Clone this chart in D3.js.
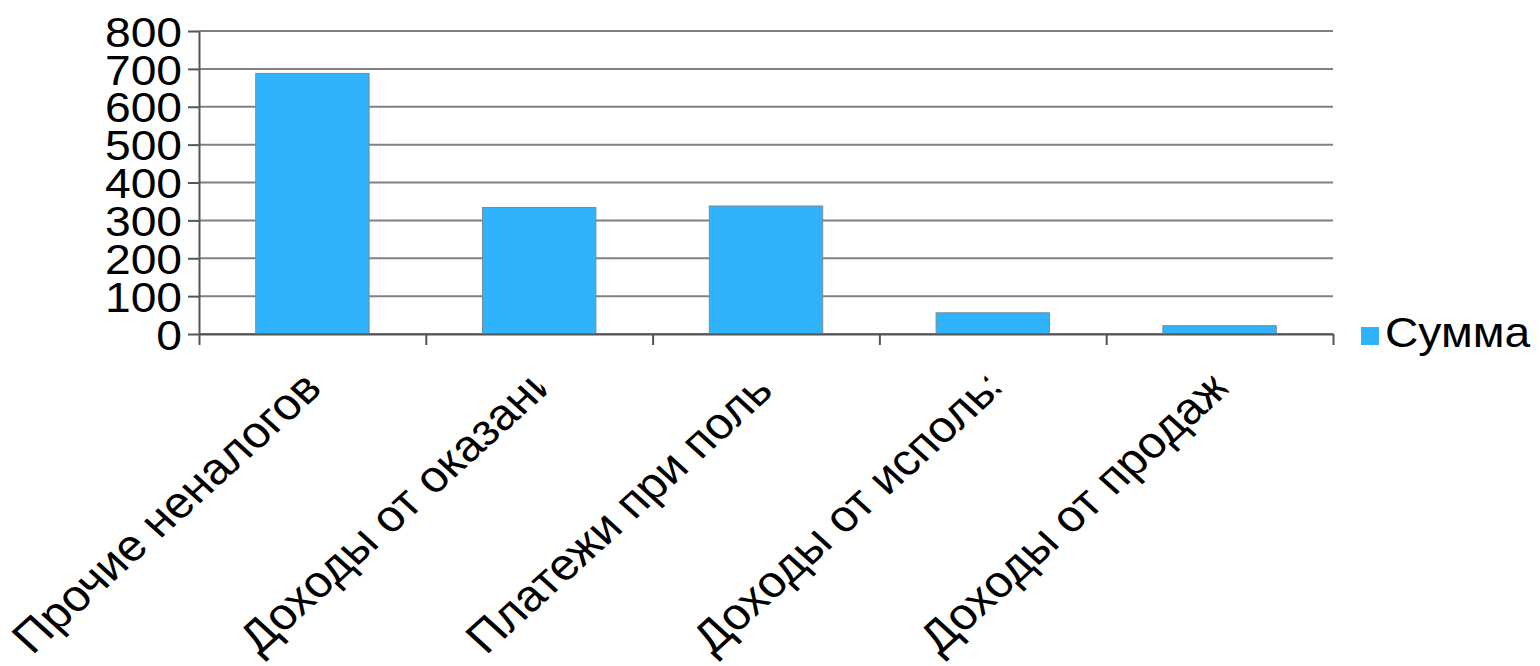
<!DOCTYPE html>
<html>
<head>
<meta charset="utf-8">
<script src="https://cdn.jsdelivr.net/npm/d3@7"></script>
<style>
  body { margin: 0; background: #fff; }
  text { font-family: "Liberation Sans", Arial, sans-serif; fill: #000; }
</style>
</head>
<body>
<div class="chart"></div>
<script>
// data
var categories = [
  "Прочие неналоговые доходы",
  "Доходы от оказания платных услуг",
  "Платежи при пользовании природными ресурсами",
  "Доходы от использования имущества",
  "Доходы от продажи материальных и нематериальных активов"
];
var values = [688, 334, 338, 56, 22];
var yTicks = [0, 100, 200, 300, 400, 500, 600, 700, 800];
var seriesName = "Сумма";

var svgWidth = 1540, svgHeight = 666;
var margin = {top: 31, left: 199, right: 207, bottom: 332};
var width = svgWidth - margin.left - margin.right;
var height = svgHeight - margin.top - margin.bottom;
var barColor = "#2fb3fc";
var stretch = 1.1; // picture is a bit wider than tall

var svg = d3.select(".chart").append("svg")
  .attr("width", svgWidth)
  .attr("height", svgHeight);

var chartGroup = svg.append("g")
  .attr("transform", `translate(${margin.left},${margin.top})`);

// scales
var xBand = d3.scaleBand()
  .domain(categories)
  .range([0, width])
  .paddingInner(0.5)
  .paddingOuter(0.25);
var xEdge = d3.scaleLinear()
  .domain([0, categories.length])
  .range([0, width]);
var yLinearScale = d3.scaleLinear()
  .domain([0, 800])
  .range([height, 0]);

// grid lines
chartGroup.selectAll(".grid")
  .data(yTicks)
  .enter()
  .append("line")
  .attr("x1", 0)
  .attr("x2", width)
  .attr("y1", d => yLinearScale(d))
  .attr("y2", d => yLinearScale(d))
  .attr("stroke", "#808080")
  .attr("stroke-width", 2);

// bars
chartGroup.selectAll("rect.bar")
  .data(values)
  .enter()
  .append("rect")
  .attr("class", "bar")
  .attr("x", (d, i) => xBand(categories[i]))
  .attr("y", d => yLinearScale(d))
  .attr("width", xBand.bandwidth())
  .attr("height", d => height - yLinearScale(d))
  .attr("fill", barColor)
  .attr("stroke", "#7d8a94")
  .attr("stroke-width", 1);

// y axis
var yAxis = d3.axisLeft(yLinearScale).tickValues(yTicks).tickSize(11).tickSizeOuter(0).tickPadding(6);
var yG = chartGroup.append("g").call(yAxis);
yG.select(".domain").attr("stroke", "#555").attr("stroke-width", 2);
yG.selectAll(".tick line").attr("stroke", "#555").attr("stroke-width", 2);
yG.selectAll(".tick text")
  .attr("x", 0)
  .attr("dy", "0.36em")
  .attr("transform", `translate(-17,0) scale(${stretch},1)`)
  .style("font-size", "42px")
  .style("font-family", "'Liberation Sans', Arial, sans-serif")
  .attr("fill", "#000");

// x axis with ticks between categories
var xAxis = d3.axisBottom(xEdge).tickValues(d3.range(categories.length + 1)).tickSize(11).tickSizeOuter(0).tickFormat("");
var xG = chartGroup.append("g")
  .attr("transform", `translate(0,${height})`)
  .call(xAxis);
xG.select(".domain").attr("stroke", "#555").attr("stroke-width", 2);
xG.selectAll(".tick line").attr("stroke", "#555").attr("stroke-width", 2);

// category labels, rotated and cut to a fixed length
var labelSize = 44;
// the visible length is about the first label's cut text
var probe = svg.append("text").style("font-size", labelSize + "px").text("Прочие неналогов");
var labelLen = probe.node().getComputedTextLength() - 2;
probe.remove();

var defs = svg.append("defs");
defs.append("clipPath")
  .attr("id", "labelClip")
  .append("rect")
  .attr("x", -labelLen - 20)
  .attr("y", -70)
  .attr("width", labelLen + 20)
  .attr("height", 100);

chartGroup.selectAll(".xlabel")
  .data(categories)
  .enter()
  .append("g")
  .attr("class", "xlabel")
  .attr("transform", d => `translate(${xBand(d) + xBand.bandwidth() / 2 + 10},${height + 58}) scale(${stretch},1) rotate(-45)`)
  .append("text")
  .attr("x", -labelLen)
  .attr("y", 0)
  .attr("clip-path", "url(#labelClip)")
  .style("font-size", labelSize + "px")
  .text(d => d);

// legend
var legend = svg.append("g")
  .attr("transform", `translate(${margin.left + width + 28},327)`);
legend.append("rect")
  .attr("width", 18)
  .attr("height", 18)
  .attr("fill", barColor);
legend.append("text")
  .attr("transform", `translate(24,20) scale(${stretch},1)`)
  .style("font-size", "42px")
  .text(seriesName);
</script>
</body>
</html>
